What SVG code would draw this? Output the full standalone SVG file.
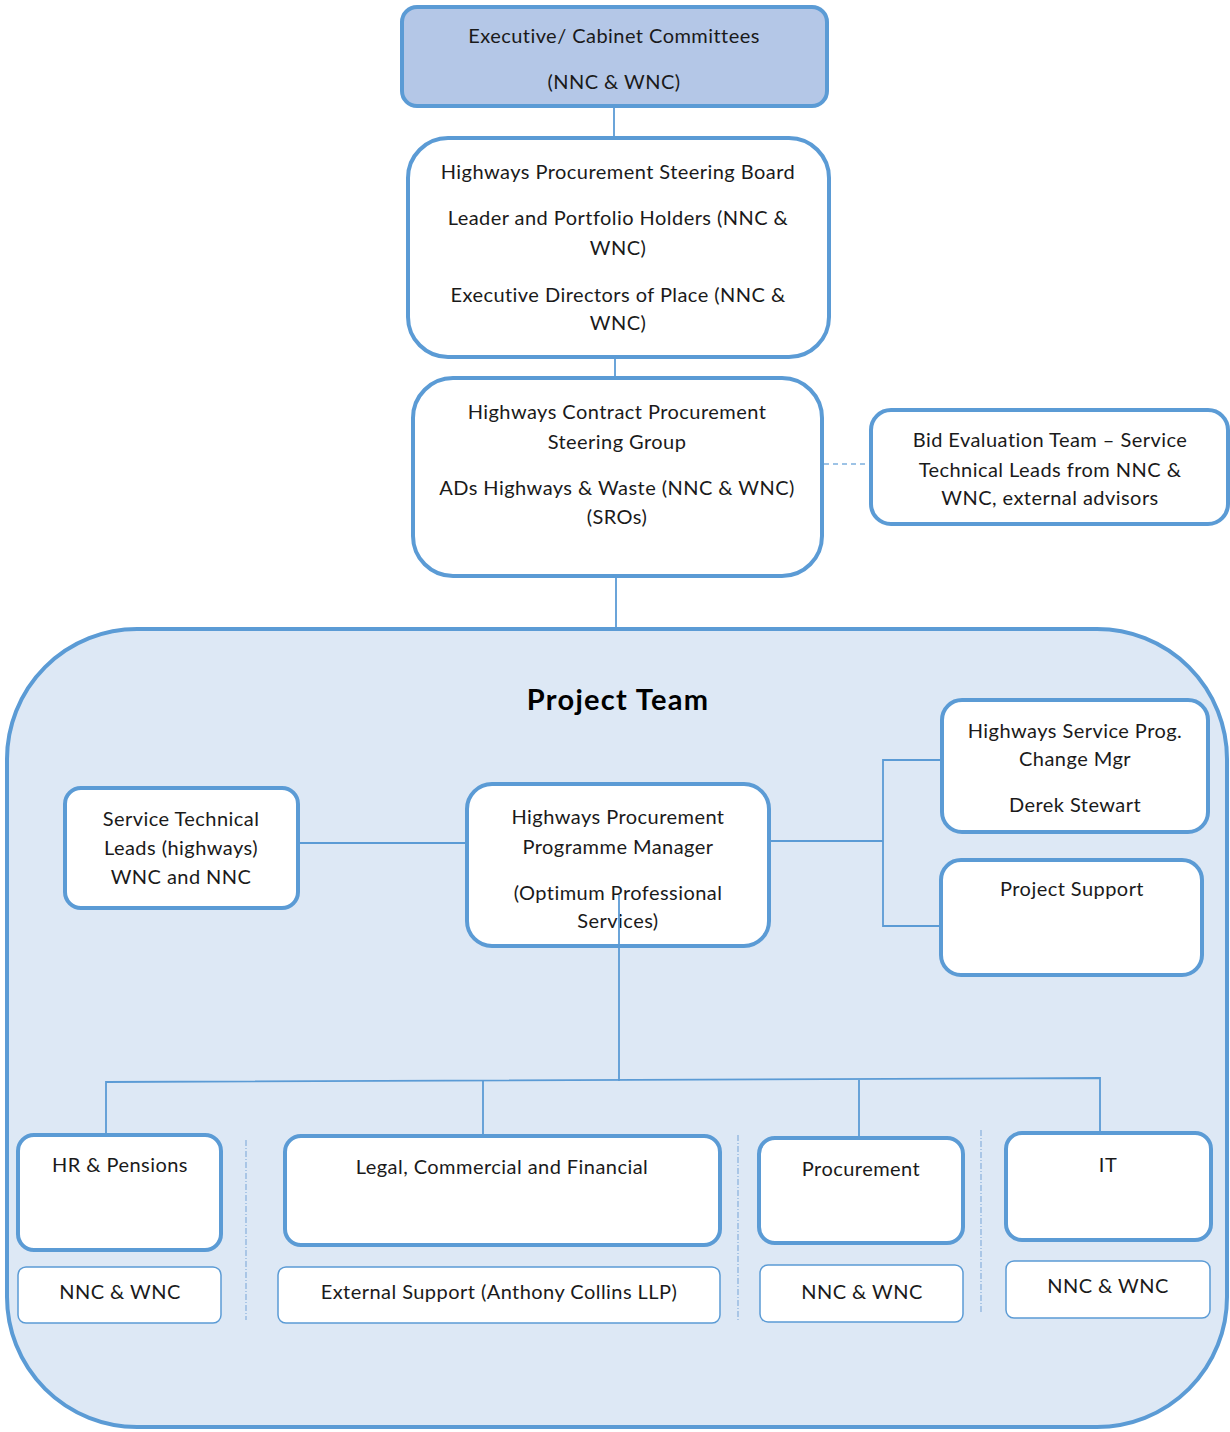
<svg xmlns="http://www.w3.org/2000/svg" width="1230" height="1432" viewBox="0 0 1230 1432">
<style>
text{font-family:Lato,"Open Sans","Liberation Sans",sans-serif;font-size:20px;letter-spacing:0.45px;fill:#1a1a1a;text-anchor:middle}
.title{font-size:29px;letter-spacing:1.3px;font-weight:bold;fill:#000}
.box{fill:#fff;stroke:#5b9bd5;stroke-width:4}
.sub{fill:#fff;stroke:#5b9bd5;stroke-width:1.5}
.con{stroke:#5b9bd5;stroke-width:1.8;fill:none}
.sep{stroke:#8fb4de;stroke-width:1.3;stroke-dasharray:6 2 1 2;fill:none}
</style>
<rect width="1230" height="1432" fill="#fff"/>
<g id="connectors-top">
<line class="con" x1="614" y1="106" x2="614" y2="138"/>
<line class="con" x1="615" y1="357" x2="615" y2="378"/>
<line class="con" x1="616" y1="576" x2="616" y2="628"/>
<line x1="824" y1="464" x2="870" y2="464" stroke="#9dc3e6" stroke-width="2" stroke-dasharray="5 4"/>
</g>
<g id="exec">
<rect x="402" y="7" width="425" height="99" rx="15" fill="#b4c7e7" stroke="#5b9bd5" stroke-width="4"/>
<text x="614" y="43">Executive/ Cabinet Committees</text>
<text x="614" y="89">(NNC &amp; WNC)</text>
</g>
<g id="board">
<rect class="box" x="408" y="138" width="421" height="219" rx="40"/>
<text x="618" y="179">Highways Procurement Steering Board</text>
<text x="618" y="225">Leader and Portfolio Holders (NNC &amp;</text>
<text x="618" y="255">WNC)</text>
<text x="618" y="302">Executive Directors of Place (NNC &amp;</text>
<text x="618" y="330">WNC)</text>
</g>
<g id="group">
<rect class="box" x="413" y="378" width="409" height="198" rx="40"/>
<text x="617" y="419">Highways Contract Procurement</text>
<text x="617" y="449">Steering Group</text>
<text x="617" y="495">ADs Highways &amp; Waste (NNC &amp; WNC)</text>
<text x="617" y="524">(SROs)</text>
</g>
<g id="bid">
<rect class="box" x="871" y="410" width="357" height="114" rx="20"/>
<text x="1050" y="447">Bid Evaluation Team – Service</text>
<text x="1050" y="477">Technical Leads from NNC &amp;</text>
<text x="1050" y="505">WNC, external advisors</text>
</g>
<g id="project-team">
<rect x="7" y="629" width="1220" height="798" rx="130" fill="#dde8f5" stroke="#5b9bd5" stroke-width="4"/>
<text class="title" x="618" y="710">Project Team</text>
</g>
<g id="connectors">
<line class="con" x1="298" y1="843" x2="467" y2="843"/>
<polyline class="con" points="769,841 883,841"/>
<polyline class="con" points="942,760 883,760 883,926 942,926"/>
<line class="con" x1="619" y1="895" x2="619" y2="1081"/>
<polyline class="con" points="106,1135 106,1082 1100,1078 1100,1133"/>
<line class="con" x1="483" y1="1081" x2="483" y2="1136"/>
<line class="con" x1="859" y1="1080" x2="859" y2="1138"/>
<line class="sep" x1="246" y1="1140" x2="246" y2="1320"/>
<line class="sep" x1="738" y1="1135" x2="738" y2="1320"/>
<line class="sep" x1="981" y1="1130" x2="981" y2="1312"/>
</g>
<g id="stl">
<rect class="box" x="65" y="788" width="233" height="120" rx="16"/>
<text x="181" y="826">Service Technical</text>
<text x="181" y="855">Leads (highways)</text>
<text x="181" y="884">WNC and NNC</text>
</g>
<g id="manager">
<rect class="box" x="467" y="784" width="302" height="162" rx="25"/>
<text x="618" y="824">Highways Procurement</text>
<text x="618" y="854">Programme Manager</text>
<text x="618" y="900">(Optimum Professional</text>
<text x="618" y="928">Services)</text>
</g>
<line class="con" x1="619" y1="895" x2="619" y2="946"/>
<g id="change-mgr">
<rect class="box" x="942" y="700" width="266" height="132" rx="20"/>
<text x="1075" y="738">Highways Service Prog.</text>
<text x="1075" y="766">Change Mgr</text>
<text x="1075" y="812">Derek Stewart</text>
</g>
<g id="support">
<rect class="box" x="941" y="860" width="261" height="115" rx="20"/>
<text x="1072" y="896">Project Support</text>
</g>
<g id="hr">
<rect class="box" x="18" y="1135" width="203" height="115" rx="16"/>
<text x="120" y="1172">HR &amp; Pensions</text>
</g>
<g id="hr-sub">
<rect class="sub" x="18" y="1267" width="203" height="56" rx="8"/>
<text x="120" y="1299">NNC &amp; WNC</text>
</g>
<g id="legal">
<rect class="box" x="285" y="1136" width="435" height="109" rx="16"/>
<text x="502" y="1174">Legal, Commercial and Financial</text>
</g>
<g id="legal-sub">
<rect class="sub" x="278" y="1267" width="442" height="56" rx="8"/>
<text x="499" y="1299">External Support (Anthony Collins LLP)</text>
</g>
<g id="procurement">
<rect class="box" x="759" y="1138" width="204" height="105" rx="16"/>
<text x="861" y="1176">Procurement</text>
</g>
<g id="proc-sub">
<rect class="sub" x="760" y="1265" width="203" height="57" rx="8"/>
<text x="862" y="1299">NNC &amp; WNC</text>
</g>
<g id="it">
<rect class="box" x="1006" y="1133" width="205" height="107" rx="16"/>
<text x="1108" y="1172">IT</text>
</g>
<g id="it-sub">
<rect class="sub" x="1006" y="1261" width="204" height="57" rx="8"/>
<text x="1108" y="1293">NNC &amp; WNC</text>
</g>
</svg>
